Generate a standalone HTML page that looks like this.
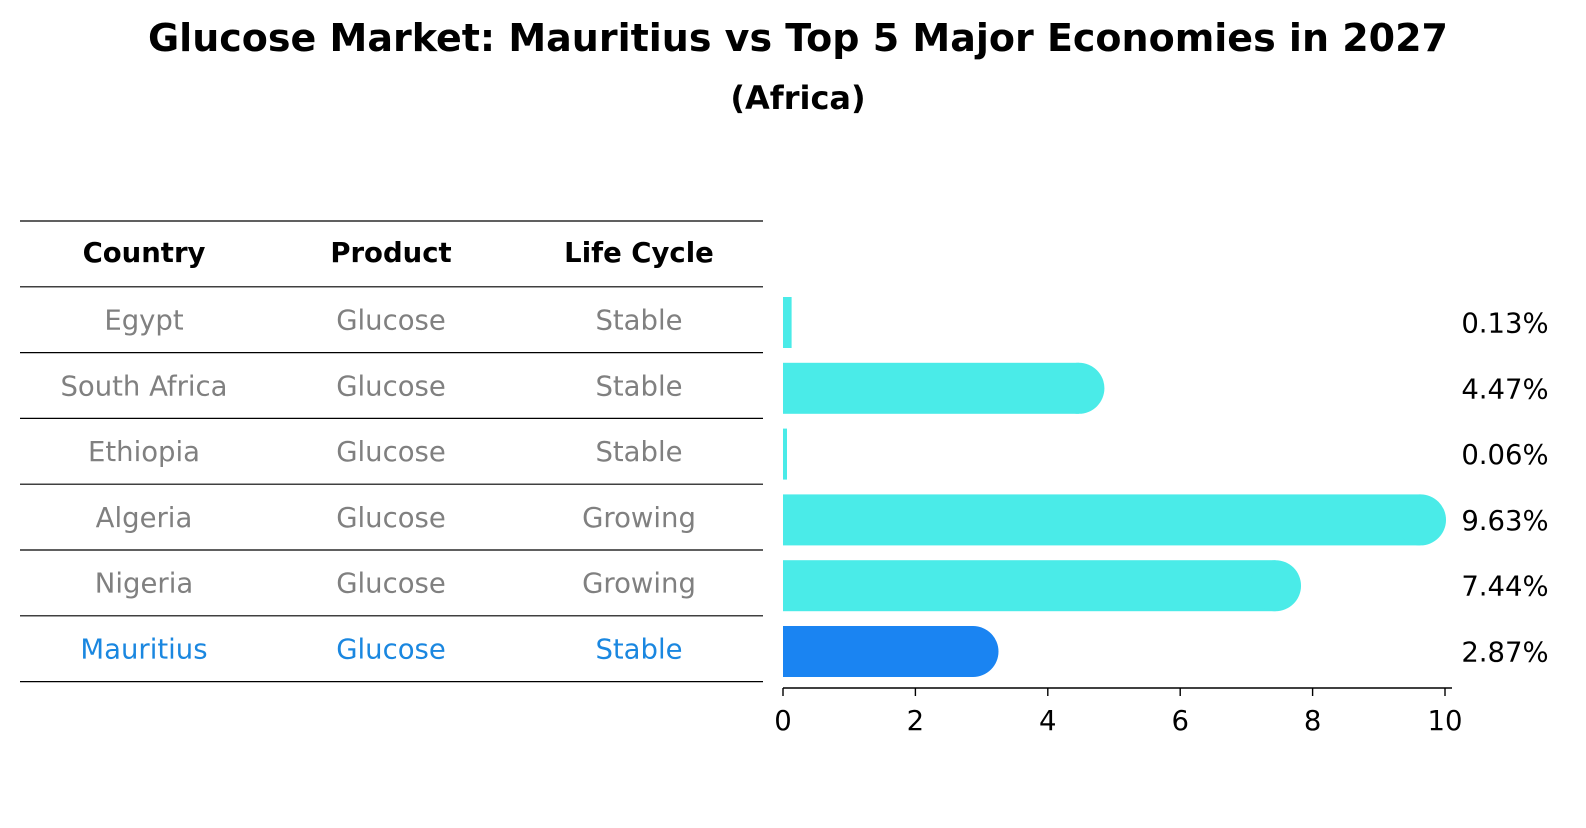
<!DOCTYPE html>
<html><head><meta charset="utf-8"><style>
body{margin:0;background:#fff;font-family:"Liberation Sans","DejaVu Sans",sans-serif;}
svg text{font-family:"DejaVu Sans","Liberation Sans",sans-serif;}
</style></head><body>
<svg id="c" width="1586" height="823">
<text x="798" y="51" text-anchor="middle" font-size="38" font-weight="bold">Glucose Market: Mauritius vs Top 5 Major Economies in 2027</text>
<text x="798" y="109" text-anchor="middle" font-size="32" font-weight="bold">(Africa)</text>
</svg>
<script>
const countries=["Egypt","South Africa","Ethiopia","Algeria","Nigeria","Mauritius"];
const products=["Glucose","Glucose","Glucose","Glucose","Glucose","Glucose"];
const cycles=["Stable","Stable","Stable","Growing","Growing","Stable"];
const values=[0.13,4.47,0.06,9.63,7.44,2.87];
const ticks=[0,2,4,6,8,10];
const svg=document.getElementById('c');
const NS='http://www.w3.org/2000/svg';
function mk(t,a,txt){const e=document.createElementNS(NS,t);for(const k in a)e.setAttribute(k,a[k]);if(txt!==undefined)e.textContent=txt;svg.appendChild(e);return e;}
const x0=783,pxu=66.2;
const xs=v=>x0+v*pxu;
const rowY=i=>319.5+i*65.8;
const lineY=i=>221+i*65.8;
const FS=27.5;
for(let i=0;i<=7;i++){const l=mk('line',{x1:20,x2:763,y1:lineY(i),y2:lineY(i),stroke:'#000','stroke-width':1.2});

}
const cols=[144,391,639];
["Country","Product","Life Cycle"].forEach((h,j)=>{const t=mk('text',{x:cols[j],y:262,'text-anchor':'middle','font-size':FS,'font-weight':'bold'},h);

});
countries.forEach((c,i)=>{
 const last=i===countries.length-1;const col=last?'#1a87e0':'#808080';
 [c,products[i],cycles[i]].forEach((s,j)=>{const t=mk('text',{x:cols[j],y:rowY(i)+10,'text-anchor':'middle','font-size':FS,fill:col},s);
 
 });
 const v=values[i];const w=xs(v)-x0;const y=rowY(i)-22.5;const h=51;const fill=last?'#1a84f2':'#4aebe8';
 const g=document.createElementNS(NS,'g');svg.appendChild(g);
 
 
 const r=document.createElementNS(NS,'rect');r.setAttribute('x',x0);r.setAttribute('y',y);r.setAttribute('width',Math.max(w,4));r.setAttribute('height',h);r.setAttribute('fill',fill);g.appendChild(r);
 if(v>1){const cap=document.createElementNS(NS,'circle');cap.setAttribute('cx',x0+w);cap.setAttribute('cy',y+h/2);cap.setAttribute('r',h/2);cap.setAttribute('fill',fill);g.appendChild(cap);}
 const t=mk('text',{x:1505,y:rowY(i)+13,'text-anchor':'middle','font-size':FS},v.toFixed(2)+'%');
 
 
});
const ax=mk('line',{x1:x0,x2:1452,y1:688,y2:688,stroke:'#000','stroke-width':1.4});


ticks.forEach(tv=>{const l=mk('line',{x1:xs(tv),x2:xs(tv),y1:688,y2:696,stroke:'#000','stroke-width':1.4});


const t=mk('text',{x:xs(tv),y:730,'text-anchor':'middle','font-size':FS},String(tv));

});
</script>
</body></html>
